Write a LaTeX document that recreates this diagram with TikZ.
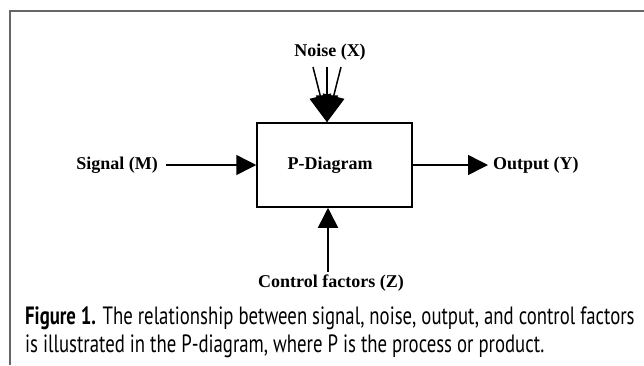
\documentclass[tikz,border=0pt]{standalone}
\usepackage{fontspec}
\setmainfont{Liberation Serif}
\newfontfamily\capfont[FakeStretch=0.75]{PT Sans}
\usetikzlibrary{arrows.meta,positioning}
\tikzset{
  lbl/.style={font=\fontsize{18}{20}\selectfont\bfseries, inner sep=0pt},
  flow/.style={line width=1.5pt, -{Triangle[length=20pt,width=20pt]}},
  noiseflow/.style={line width=1.5pt, -{Triangle[length=27pt,width=22pt]}},
}
\begin{document}
\begin{tikzpicture}[x=1pt,y=-1pt]
  \useasboundingbox (0,0) rectangle (644,365);
  % frame
  \draw[black!60, line width=2pt] (10,365) -- (10,11) -- (644,11);
  % process box
  \node[draw, line width=1.5pt, minimum width=155pt, minimum height=84pt] (box) at (334.5,165) {};
  \node[lbl] (pdiag) at (330,165) {P-Diagram};
  % inputs and outputs
  \node[lbl, anchor=east] (signal) at (158,165) {Signal (M)};
  \node[lbl, anchor=west] (output) at (493,165) {Output (Y)};
  \node[lbl] (noise) at (330,52) {Noise (X)};
  \node[lbl] (control) at (331,283) {Control factors (Z)};
  \draw[flow] ([xshift=8pt]signal.east) -- (box.west |- signal.east);
  \draw[flow] (box.east) -- ([xshift=-5pt]output.west);
  \coordinate (ntop) at (327,67);
  \coordinate (ntip) at (box.north -| ntop);
  \foreach \dx in {-14,0,14}
    \draw[noiseflow] ([xshift=\dx pt]ntop) -- (ntip);
  \coordinate (ctop) at (328,272);
  \draw[flow] (ctop) -- (ctop |- box.south);
  % caption
  \node[anchor=north west, inner sep=0pt, align=left,
        font=\capfont\fontsize{25}{28}\selectfont] (caption) at (25,306)
    {\textbf{Figure 1.} The relationship between signal, noise, output, and control factors\\
     is illustrated in the P-diagram, where P is the process or product.};
\end{tikzpicture}
\end{document}
